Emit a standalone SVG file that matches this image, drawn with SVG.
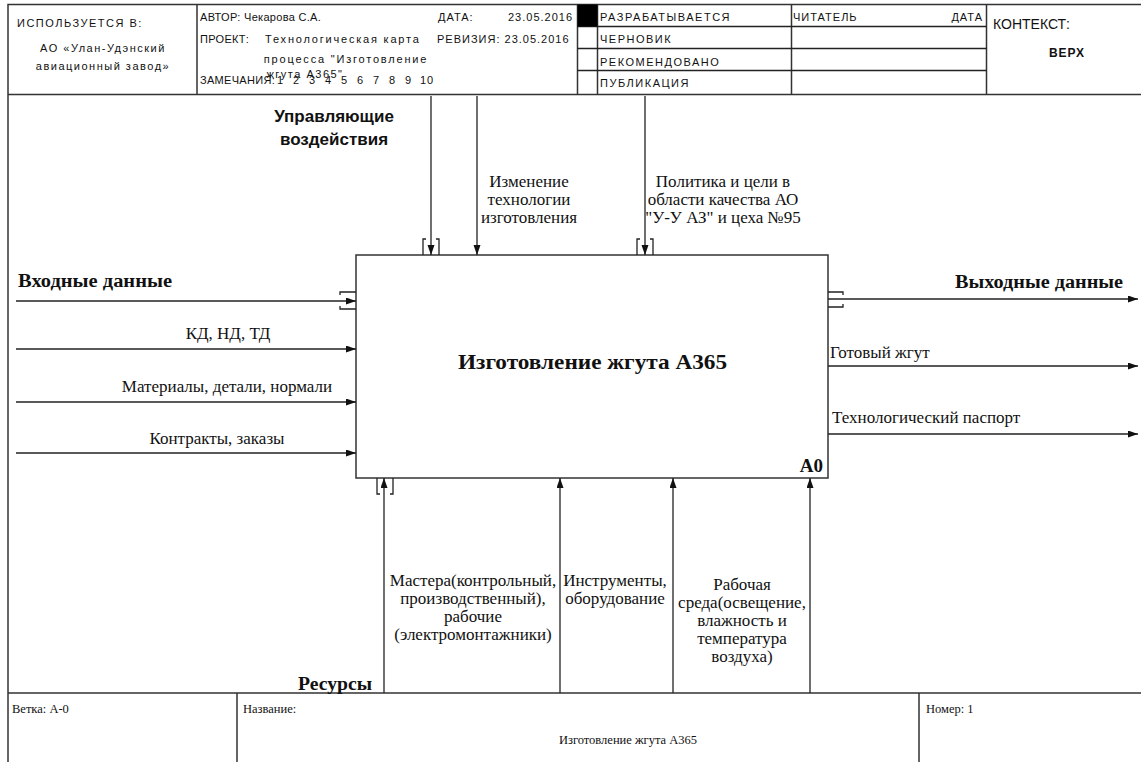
<svg xmlns="http://www.w3.org/2000/svg" width="1141" height="762" viewBox="0 0 1141 762">
<style>
.ln{stroke:#222;stroke-width:1.3;fill:none}
.fr{stroke:#333;stroke-width:1.5;fill:none}
.hd{font-family:"Liberation Sans",Arial,sans-serif;font-size:11px;letter-spacing:1px;fill:#111}
.hc{font-family:"Liberation Sans",Arial,sans-serif;font-size:11px;letter-spacing:1.5px;fill:#111}
.hp{font-family:"Liberation Sans",Arial,sans-serif;font-size:11px;letter-spacing:1.8px;fill:#111}
.hm{font-family:"Liberation Sans",Arial,sans-serif;font-size:11px;letter-spacing:0.3px;fill:#111}
.sr{font-family:"Liberation Serif","Times New Roman",serif;font-size:17px;fill:#111}
.sb{font-family:"Liberation Serif","Times New Roman",serif;font-size:18px;font-weight:bold;fill:#111}
.ft{font-family:"Liberation Serif","Times New Roman",serif;font-size:12.5px;fill:#111}
.arr{stroke:#222;stroke-width:1.3;fill:none;marker-end:url(#ah)}
</style>
<defs>
<marker id="ah" markerUnits="userSpaceOnUse" markerWidth="10" markerHeight="8" refX="10" refY="3.5" orient="auto">
<path d="M0,0 L10,3.5 L0,7 z" fill="#111"/>
</marker>
</defs>
<rect width="1141" height="762" fill="#fff"/>
<g id="frame">
<path class="fr" d="M8,762 V4.5 H1141 M8,94.5 H1141 M8,693 H1141"/>
<path class="fr" d="M197,4.5 V94.5 M577.5,4.5 V94.5 M597.5,4.5 V94.5 M791.5,4.5 V94.5 M986.5,4.5 V94.5"/>
<path class="ln" d="M577.5,26.5 H986.5 M577.5,48.5 H986.5 M577.5,70.5 H986.5"/>
<rect x="577.5" y="4.5" width="20" height="22" fill="#000"/>
<path class="fr" d="M237,693 V762 M919,693 V762"/>
</g>
<g id="header">
<text class="hc" x="17" y="27">ИСПОЛЬЗУЕТСЯ В:</text>
<text class="hc" x="103" y="52" text-anchor="middle">АО «Улан-Удэнский</text>
<text class="hc" x="103" y="70" text-anchor="middle">авиационный завод»</text>
<text class="hm" x="200" y="21">АВТОР: Чекарова С.А.</text>
<text class="hd" x="438" y="21">ДАТА:</text>
<text class="hd" x="508" y="21">23.05.2016</text>
<text class="hm" x="200" y="43">ПРОЕКТ:</text>
<text class="hp" x="265" y="43">Технологическая карта</text>
<text class="hd" x="437" y="43">РЕВИЗИЯ: 23.05.2016</text>
<text class="hp" x="346" y="63" text-anchor="middle">процесса "Изготовление</text>
<text class="hc" x="305" y="78" text-anchor="middle">жгута А365"</text>
<text class="hm" x="200" y="84">ЗАМЕЧАНИЯ:</text>
<text class="hd" y="84"><tspan x="277">1</tspan><tspan x="293">2</tspan><tspan x="309">3</tspan><tspan x="325">4</tspan><tspan x="341">5</tspan><tspan x="357">6</tspan><tspan x="373">7</tspan><tspan x="389">8</tspan><tspan x="405">9</tspan><tspan x="420">10</tspan></text>
<text class="hc" x="600" y="21">РАЗРАБАТЫВАЕТСЯ</text>
<text class="hc" x="600" y="43">ЧЕРНОВИК</text>
<text class="hc" x="600" y="66">РЕКОМЕНДОВАНО</text>
<text class="hc" x="600" y="87">ПУБЛИКАЦИЯ</text>
<text class="hd" x="793" y="21">ЧИТАТЕЛЬ</text>
<text class="hd" x="983" y="21" text-anchor="end">ДАТА</text>
<text x="993" y="29" font-family="Liberation Sans,Arial,sans-serif" font-size="14" fill="#111">КОНТЕКСТ:</text>
<text x="1067" y="57" text-anchor="middle" font-family="Liberation Sans,Arial,sans-serif" font-size="12" font-weight="bold" letter-spacing="1" fill="#111">ВЕРХ</text>
</g>
<g id="A0">
<rect x="356" y="255" width="472" height="223" fill="#fff" stroke="#333" stroke-width="1.5"/>
<text x="458" y="369" textLength="269" lengthAdjust="spacingAndGlyphs" font-family="Liberation Serif,Times New Roman,serif" font-size="21" font-weight="bold" fill="#111">Изготовление жгута А365</text>
<text x="823" y="472" text-anchor="end" font-family="Liberation Serif,Times New Roman,serif" font-size="19" font-weight="bold" fill="#111">A0</text>
</g>
<g id="connectors">
<path class="arr" d="M16,301 H356"/>
<path class="arr" d="M16,349 H356"/>
<path class="arr" d="M16,402 H356"/>
<path class="arr" d="M16,453 H356"/>
<path class="arr" d="M828,299 H1138"/>
<path class="arr" d="M828,366 H1138"/>
<path class="arr" d="M828,434 H1138"/>
<path class="arr" d="M431,96 V255"/>
<path class="arr" d="M477,96 V255"/>
<path class="arr" d="M645,96 V255"/>
<path class="arr" d="M384,693 V478"/>
<path class="arr" d="M560,693 V478"/>
<path class="arr" d="M673,693 V478"/>
<path class="arr" d="M810,693 V478"/>
<path class="ln" d="M426,239 H423 V255 M436,239 H439 V255"/>
<path class="ln" d="M640,239 H637 V255 M650,239 H653 V255"/>
<path class="ln" d="M356,292 H340 V295 M356,309 H340 V306"/>
<path class="ln" d="M828,292 H843 V295 M828,307 H843 V304"/>
<path class="ln" d="M377,478 V494 H380 M393,478 V494 H390"/>
</g>
<g id="labels">
<text class="sb" x="18" y="287" textLength="154" lengthAdjust="spacingAndGlyphs">Входные данные</text>
<text class="sr" x="228" y="339" text-anchor="middle">КД, НД, ТД</text>
<text class="sr" x="227" y="392" text-anchor="middle">Материалы, детали, нормали</text>
<text class="sr" x="217" y="444" text-anchor="middle">Контракты, заказы</text>
<text class="sb" x="955" y="288" textLength="168" lengthAdjust="spacingAndGlyphs">Выходные данные</text>
<text class="sr" x="830" y="358">Готовый жгут</text>
<text class="sr" x="832" y="423">Технологический паспорт</text>
<text font-family="Liberation Sans,Arial,sans-serif" font-size="17" font-weight="bold" fill="#111" text-anchor="middle"><tspan x="334" y="122">Управляющие</tspan><tspan x="334" y="145">воздействия</tspan></text>
<text class="sr" text-anchor="middle"><tspan x="529" y="187">Изменение</tspan><tspan x="529" y="205">технологии</tspan><tspan x="529" y="223">изготовления</tspan></text>
<text class="sr" text-anchor="middle"><tspan x="723" y="187">Политика и цели в</tspan><tspan x="723" y="205">области качества АО</tspan><tspan x="723" y="223">"У-У АЗ" и цеха №95</tspan></text>
<text class="sr" text-anchor="middle"><tspan x="473" y="586">Мастера(контрольный,</tspan><tspan x="473" y="604">производственный),</tspan><tspan x="473" y="622">рабочие</tspan><tspan x="473" y="640">(электромонтажники)</tspan></text>
<text class="sr" text-anchor="middle"><tspan x="615" y="586">Инструменты,</tspan><tspan x="615" y="604">оборудование</tspan></text>
<text class="sr" text-anchor="middle"><tspan x="742" y="590">Рабочая</tspan><tspan x="742" y="608">среда(освещение,</tspan><tspan x="742" y="626">влажность и</tspan><tspan x="742" y="644">температура</tspan><tspan x="742" y="662">воздуха)</tspan></text>
<text class="sb" x="298" y="690" textLength="74" lengthAdjust="spacingAndGlyphs">Ресурсы</text>
</g>
<g id="footer">
<text class="ft" x="12" y="713">Ветка:  А-0</text>
<text class="ft" x="243" y="713">Название:</text>
<text class="ft" x="628" y="744" text-anchor="middle">Изготовление жгута А365</text>
<text class="ft" x="926" y="713">Номер: 1</text>
</g>
</svg>
